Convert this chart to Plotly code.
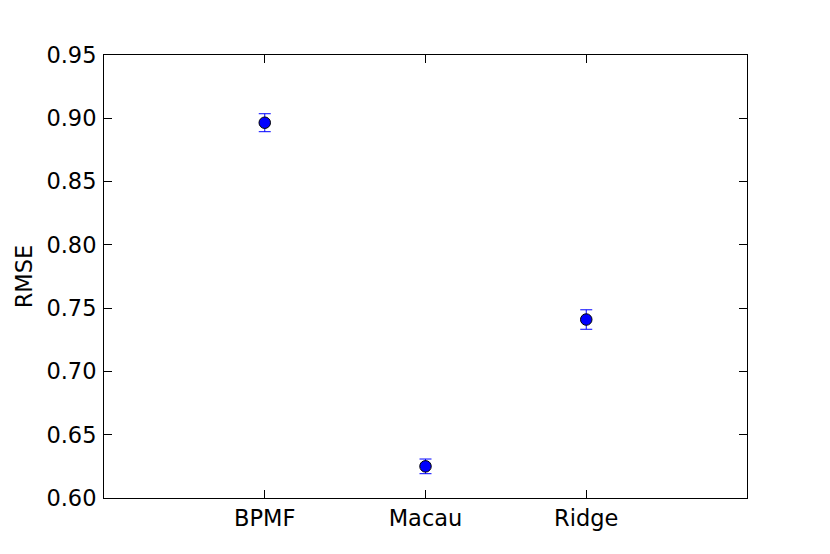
import plotly.graph_objects as go

# Model comparison: mean RMSE with error bars
models = ['BPMF', 'Macau', 'Ridge']
rmse = [0.8965, 0.6250, 0.7410]
rmse_err = [0.0071, 0.0058, 0.0077]

x_pos = list(range(1, len(models) + 1))

fig = go.Figure()
fig.add_trace(go.Scatter(
    x=x_pos, y=rmse,
    mode='markers',
    marker=dict(size=11.5, color='blue', line=dict(color='black', width=1)),
    error_y=dict(type='data', array=rmse_err, visible=True,
                 color='blue', thickness=1, width=6),
    showlegend=False,
))

axis_style = dict(
    showline=True, linecolor='black', linewidth=1, mirror='ticks',
    ticks='inside', ticklen=8, tickwidth=1, tickcolor='black',
    showgrid=False, zeroline=False,
    tickfont=dict(family='DejaVu Sans', size=22.5, color='black'),
)

fig.update_xaxes(range=[0, len(models) + 1], tickvals=x_pos, ticktext=models,
                 **axis_style)
fig.update_yaxes(range=[0.60, 0.95], dtick=0.05, tickformat='.2f',
                 ticklabelstandoff=2,
                 title=dict(text='RMSE', standoff=7,
                            font=dict(family='DejaVu Sans', size=22.5, color='black')),
                 **axis_style)

# page body adds an 8px offset, so margins are shifted to compensate
fig.update_layout(
    width=830, height=554,
    margin=dict(l=96, r=91, t=47, b=64),
    plot_bgcolor='white', paper_bgcolor='white',
)

fig.write_html("out.html")
